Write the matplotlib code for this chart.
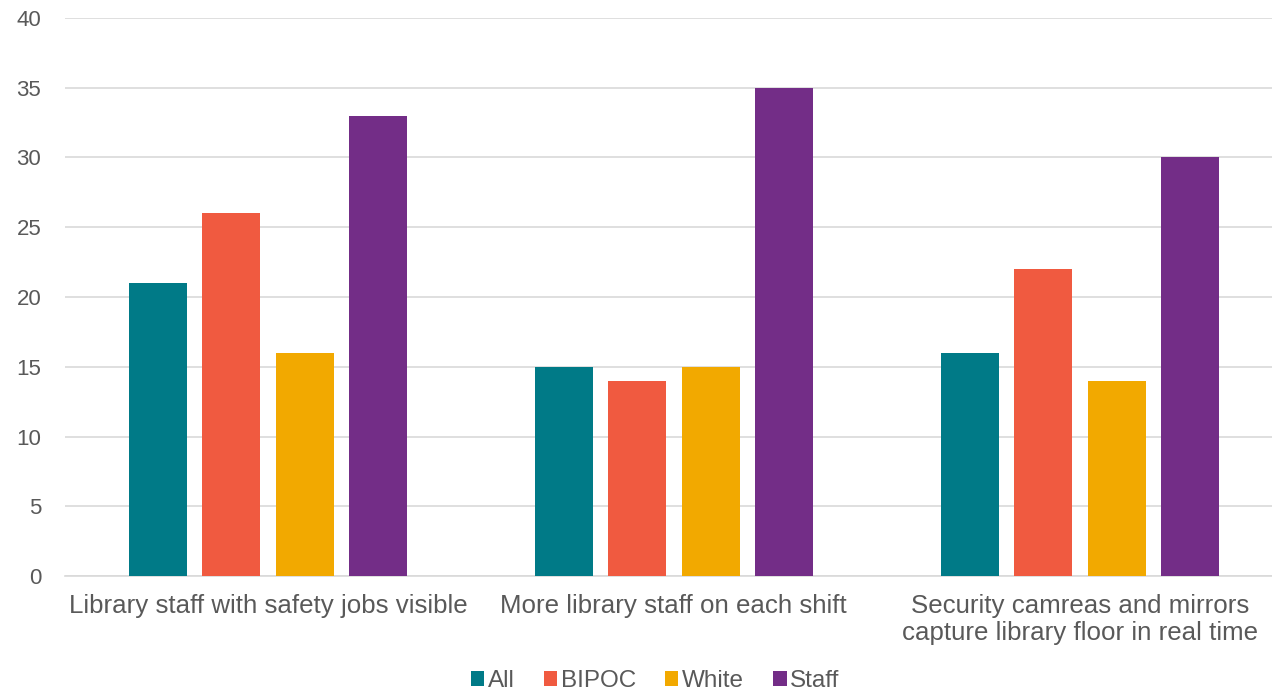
import numpy as np
import matplotlib.pyplot as plt

plt.rcParams['font.family'] = ['Liberation Sans', 'DejaVu Sans']

categories = ["Library staff with safety jobs visible",
              "More library staff on each shift",
              "Security camreas and mirrors\ncapture library floor in real time"]
series_names = ["All", "BIPOC", "White", "Staff"]
all_vals = [21, 15, 16]
bipoc_vals = [26, 14, 22]
white_vals = [16, 15, 14]
staff_vals = [33, 35, 30]
colors = ["#007A87", "#F05A40", "#F2A900", "#732D87"]

fig = plt.figure(figsize=(12.72, 6.92), dpi=100)
ax = fig.add_axes([0.051, 0.1676, 0.9575, 0.8064])

x = np.arange(len(categories))
width = 0.143
step = 0.181
for i, (name, vals) in enumerate(zip(series_names,
                                     [all_vals, bipoc_vals, white_vals, staff_vals])):
    ax.bar(x + (i - 1.5) * step, vals, width, color=colors[i], label=name, zorder=3)

ax.set_xlim(-0.5, 2.5)
ax.set_ylim(0, 40)
ax.set_yticks(range(0, 41, 5))
ax.grid(axis='y', color='#D9D9D9', linewidth=1.2, zorder=0)
for s in ['top', 'right', 'left']:
    ax.spines[s].set_visible(False)
ax.spines['bottom'].set_color('#D9D9D9')
ax.spines['bottom'].set_linewidth(1.2)
ax.tick_params(axis='both', length=0, colors='#595959')
ax.tick_params(axis='y', pad=17, labelsize=16)
ax.tick_params(axis='x', pad=13, labelsize=18.6)
ax.set_xticks(x)
ax.set_xticklabels(categories, linespacing=1.15)

fig.legend(loc='lower center', bbox_to_anchor=(0.515, -0.032), ncol=4, frameon=False,
           fontsize=17.5, handlelength=0.55, handleheight=0.55, handletextpad=0.15,
           columnspacing=1.2, labelcolor='#595959')

fig.savefig("out.png")
